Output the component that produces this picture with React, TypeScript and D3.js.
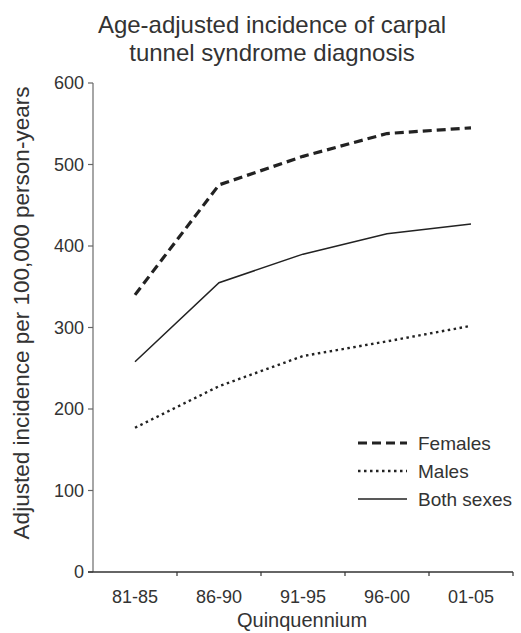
import React from "react";
import * as d3 from "d3";

const categories = ["81-85", "86-90", "91-95", "96-00", "01-05"];
const females = [340, 475, 510, 538, 545];
const males = [177, 228, 265, 283, 302];
const both = [258, 355, 390, 415, 427];
const yTicks = [0, 100, 200, 300, 400, 500, 600];
const titleLines = ["Age-adjusted incidence of carpal", "tunnel syndrome diagnosis"];
const seriesNames = ["Females", "Males", "Both sexes"];

const W = 521;
const H = 633;
const font = "'Liberation Sans', Arial, sans-serif";
const ink = "#333";

export default function App() {
  const x = d3.scaleBand<string>().domain(categories).range([93, 513]);
  const y = d3.scaleLinear().domain([0, 600]).range([572, 83]);
  const line = d3
    .line<number>()
    .x((_, i) => (x(categories[i]) as number) + x.bandwidth() / 2)
    .y((d) => y(d));

  const styles = [
    { data: females, width: 3.2, dash: "9,5" },
    { data: males, width: 2.4, dash: "2.5,3.5" },
    { data: both, width: 1.5, dash: "none" },
  ];

  const boundaries = categories.map((c) => (x(c) as number) + x.bandwidth());

  return (
    <svg width={W} height={H} style={{ position: "absolute", left: 0, top: 0, background: "#fff" }}>
      <g fontFamily={font} fill={ink}>
        {titleLines.map((t, i) => (
          <text key={t} x={272} y={33 + i * 28} textAnchor="middle" fontSize={24}>
            {t}
          </text>
        ))}
      </g>
      {/* y axis */}
      <line x1={93} x2={93} y1={y(600)} y2={y(0)} stroke="#888" strokeWidth={1.5} />
      {yTicks.map((t) => (
        <g key={t}>
          <line x1={88} x2={93} y1={y(t)} y2={y(t)} stroke="#666" strokeWidth={1.2} />
          <text
            x={84}
            y={y(t)}
            dy="0.35em"
            textAnchor="end"
            fontSize={18}
            fontFamily={font}
            fill={ink}
          >
            {t}
          </text>
        </g>
      ))}
      {/* x axis */}
      <line x1={88} x2={513} y1={y(0)} y2={y(0)} stroke="#333" strokeWidth={1.5} />
      {boundaries.map((b, i) => (
        <line key={i} x1={b} x2={b} y1={y(0)} y2={y(0) + 4} stroke="#333" strokeWidth={1.2} />
      ))}
      {categories.map((c) => (
        <text
          key={c}
          x={(x(c) as number) + x.bandwidth() / 2}
          y={603}
          textAnchor="middle"
          fontSize={18}
          fontFamily={font}
          fill={ink}
        >
          {c}
        </text>
      ))}
      <text x={302} y={627} textAnchor="middle" fontSize={20} fontFamily={font} fill={ink}>
        Quinquennium
      </text>
      <text
        transform={`translate(29, 313) rotate(-90)`}
        textAnchor="middle"
        fontSize={22.5}
        fontFamily={font}
        fill={ink}
      >
        Adjusted incidence per 100,000 person-years
      </text>
      {/* series */}
      {styles.map((s, i) => (
        <path
          key={i}
          d={line(s.data) as string}
          fill="none"
          stroke="#222"
          strokeWidth={s.width}
          strokeDasharray={s.dash}
        />
      ))}
      {/* legend */}
      {styles.map((s, i) => (
        <g key={seriesNames[i]} transform={`translate(358, ${443 + i * 28})`}>
          <line x1={0} x2={49} y1={0} y2={0} stroke="#222" strokeWidth={s.width} strokeDasharray={s.dash} />
          <text x={60} y={0} dy="0.35em" fontSize={19} fontFamily={font} fill={ink}>
            {seriesNames[i]}
          </text>
        </g>
      ))}
    </svg>
  );
}
